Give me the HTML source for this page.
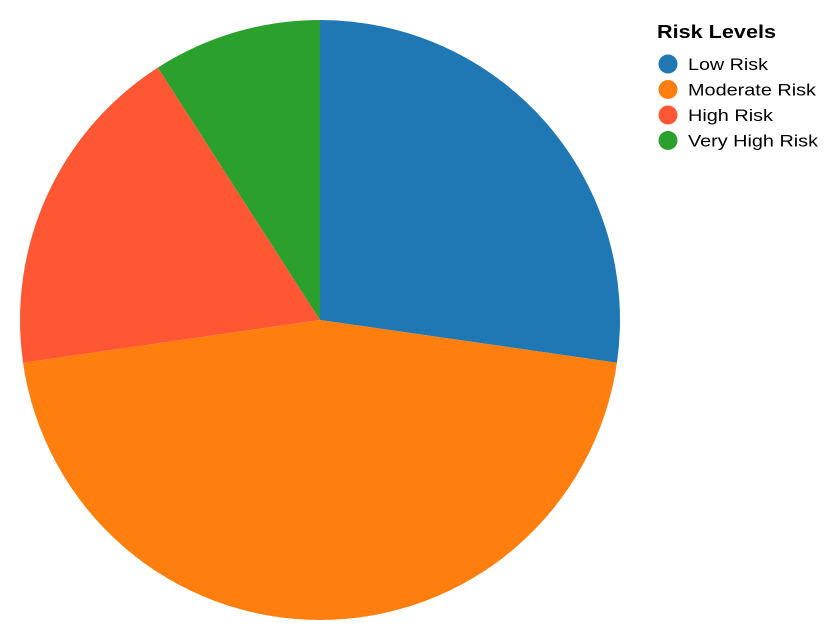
<!DOCTYPE html>
<html><head><meta charset="utf-8"><style>
body{margin:0;background:#fff;}
svg{display:block;font-family:"Liberation Sans",Arial,sans-serif;}
</style></head><body>
<svg id="chart" width="840" height="640">
<g id="pie"></g>
<g id="legend">
<text x="657" y="38" font-size="18" font-weight="bold" fill="#000" textLength="119" lengthAdjust="spacingAndGlyphs">Risk Levels</text>
</g>
</svg>
<script>
const categories = ["Low Risk","Moderate Risk","High Risk","Very High Risk"];
const values = [30,50,20,10];
const colors = ["#1f77b4","#ff7f0e","#ff5733","#2ca02c"];
const labelWidths = [80,128,85,130];
const ns="http://www.w3.org/2000/svg";
const cx=320, cy=320, r=300;
const total=values.reduce((a,b)=>a+b,0);
const pie=document.getElementById('pie');
let a0=0;
values.forEach((v,i)=>{
  const a1=a0+v/total*2*Math.PI;
  const x0=cx+r*Math.sin(a0), y0=cy-r*Math.cos(a0);
  const x1=cx+r*Math.sin(a1), y1=cy-r*Math.cos(a1);
  const large=(a1-a0)>Math.PI?1:0;
  const p=document.createElementNS(ns,'path');
  p.setAttribute('d',`M${cx},${cy}L${x0},${y0}A${r},${r} 0 ${large} 1 ${x1},${y1}Z`);
  p.setAttribute('fill',colors[i]);
  
  
  pie.appendChild(p);
  a0=a1;
});
const lg=document.getElementById('legend');
categories.forEach((c,i)=>{
  const y=64+i*25.5;
  const g=document.createElementNS(ns,'g');
  
  
  const ci=document.createElementNS(ns,'circle');
  ci.setAttribute('cx',668);ci.setAttribute('cy',y);ci.setAttribute('r',9.5);ci.setAttribute('fill',colors[i]);
  const t=document.createElementNS(ns,'text');
  t.setAttribute('x',688);t.setAttribute('y',y+6);t.setAttribute('font-size','17');t.setAttribute('fill','#000');
  t.setAttribute('textLength',labelWidths[i]);t.setAttribute('lengthAdjust','spacingAndGlyphs');
  t.textContent=c;
  g.appendChild(ci);g.appendChild(t);lg.appendChild(g);
});
</script>
</body></html>
